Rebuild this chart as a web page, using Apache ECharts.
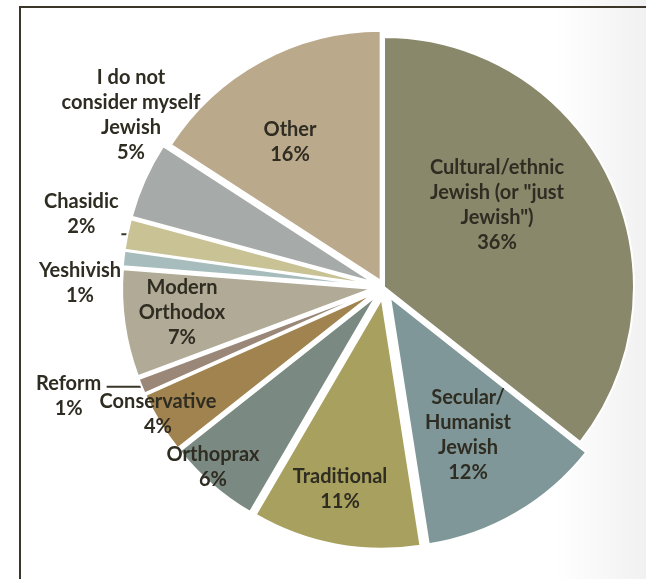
<!DOCTYPE html>
<html><head><meta charset="utf-8">
<script src="https://cdn.jsdelivr.net/npm/echarts@6/dist/echarts.min.js"></script>
<style>
html,body{margin:0;padding:0;width:646px;height:579px;overflow:hidden;background:linear-gradient(to right,#ffffff 0%,#ffffff 86%,#f1f1f1 100%);}
#frame{position:absolute;left:19px;top:6px;right:0;bottom:-5px;border-top:2.5px solid #3a3629;border-left:2.5px solid #3a3629;}
#chart{position:absolute;left:0;top:0;width:646px;height:579px;}
</style></head><body><div id="frame"></div><div id="chart"></div>
<script>
const categories = ['Cultural/ethnic Jewish (or "just Jewish")','Secular/Humanist Jewish','Traditional','Orthoprax','Conservative','Reform','Modern Orthodox','Yeshivish','Chasidic','I do not consider myself Jewish','Other'];
const labelTexts = ['Cultural/ethnic\nJewish (or "just\nJewish")','Secular/\nHumanist\nJewish','Traditional','Orthoprax','Conservative','Reform','Modern\nOrthodox','Yeshivish','Chasidic','I do not\nconsider myself\nJewish','Other'];
const percents = [36,12,11,6,4,1,7,1,2,5,16];
const colors = ['#8a886b','#7f9798','#a8a05e','#7a8a82','#a0834f','#9a8778','#b0aa96','#a7bcbd','#c8c295','#a6aaa8','#bba98c'];

// label anchor positions (text layout only)
const labelPos = [[497,205],[468,435],[340,489],[213,467],[158,414],[68,393],[182,313],[80,283],[85,212],[131,115],[290,142]];
const OTHER = 10, CULTURAL = 0, REFORM = 5, CHASIDIC = 8;
const TEXT = '#2f2c22';
const FONT = {fontFamily: 'Lato', fontWeight: 'bold', fontSize: 20, lineHeight: 25, color: TEXT, align: 'center'};
const fmt = p => labelTexts[p.dataIndex] + '\n' + percents[p.dataIndex] + '%';
const fmtRich = p => '{a|' + labelTexts[p.dataIndex] + '}\n{a|' + percents[p.dataIndex] + '%}';

const chart = echarts.init(document.getElementById('chart'), null, {renderer:'canvas'});

function sliceData(visibleFn){
  return categories.map((c,i)=>{
    const vis = visibleFn(i);
    return {
      name: c, value: percents[i],
      selected: vis && i !== CULTURAL,
      itemStyle: vis ? {color: colors[i], borderColor:'#ffffff', borderWidth:2} : {color:'rgba(0,0,0,0)', borderWidth:0},
      label: {show: false}, labelLine: {show: false}
    };
  });
}

// slices (exploded) + leader-lined labels for Reform & Chasidic
const mainData = sliceData(i => i !== OTHER);
mainData[REFORM].label = {show: true, position: 'outside', formatter: fmtRich, padding: [18,0,0,0], distanceToLabelLine: 6,
  rich: {a: Object.assign({width: 64}, FONT)}};
mainData[REFORM].labelLine = {show: true, length: 1, length2: 34, smooth: false, lineStyle: {color: '#3a3629', width: 2}};
mainData[CHASIDIC].label = {show: true, position: 'outside', formatter: fmtRich, padding: [0,0,40,0], distanceToLabelLine: 4,
  rich: {a: Object.assign({width: 72}, FONT)}};
mainData[CHASIDIC].labelLine = {show: true, length: 1, length2: 5, smooth: false, lineStyle: {color: '#3a3629', width: 2}};

const labelData = categories.map((c,i)=>({
  name: c, value: percents[i],
  itemStyle: {color: 'rgba(0,0,0,0)', borderWidth: 0},
  label: {show: i !== REFORM && i !== CHASIDIC}
}));

chart.setOption({
  animation: false,
  series: [
    {
      type: 'pie', z: 2, center: [384, 287], radius: [0, 250], startAngle: 90, clockwise: true,
      selectedMode: 'multiple', selectedOffset: 12, avoidLabelOverlap: false, silent: true,
      data: mainData
    },
    {
      type: 'pie', z: 2, center: [384, 287], radius: [0, 250], startAngle: 90, clockwise: true,
      selectedMode: 'multiple', selectedOffset: 7, avoidLabelOverlap: false, silent: true,
      data: sliceData(i => i === OTHER)
    },
    {
      type: 'pie', z: 5, center: [384, 287], radius: [0, 250], startAngle: 90, clockwise: true,
      avoidLabelOverlap: false, silent: true,
      label: Object.assign({position: 'outside', formatter: fmt}, FONT),
      labelLine: {show: false},
      labelLayout: function (params) {
        const p = labelPos[params.dataIndex];
        return {x: p[0], y: p[1], align: 'center', verticalAlign: 'middle'};
      },
      data: labelData
    }
  ]
});
</script></body></html>
